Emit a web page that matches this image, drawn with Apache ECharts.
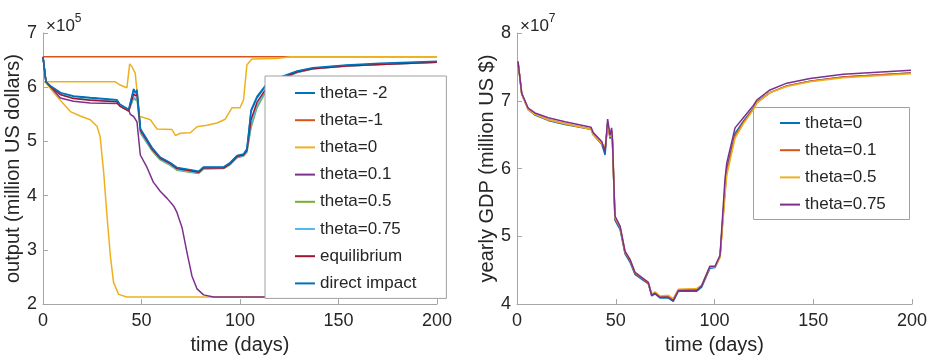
<!DOCTYPE html>
<html>
<head>
<meta charset="utf-8">
<script src="https://cdn.jsdelivr.net/npm/echarts@6/dist/echarts.min.js"></script>
<style>
  html, body { margin: 0; padding: 0; background: #fff; }
  #chart { width: 934px; height: 360px; }
</style>
</head>
<body>
<div id="chart"></div>
<script>
// ── left panel: output (×10^5 million US dollars) ──────────────────────
const clusterDays = [0, 1.5, 4, 9, 15.5, 24, 37.5, 39, 43.5, 46, 47, 47.7, 49.5, 52.8, 55.3, 59.5, 64.6, 68, 74.8, 79, 81.5, 91.7, 95, 98.5, 101.8, 103.5, 105.6, 108.6, 112.8, 122, 129, 137, 154, 171, 200]
const thetaM2      = [6.56, 6.10, 6.01, 5.89, 5.83, 5.80, 5.76, 5.68, 5.58, 5.95, 5.89, 5.94, 5.22, 5.03, 4.88, 4.70, 4.60, 4.51, 4.47, 4.44, 4.52, 4.52, 4.60, 4.73, 4.76, 4.85, 5.55, 5.80, 6.01, 6.20, 6.29, 6.35, 6.40, 6.43, 6.47]
const theta05      = [6.56, 6.10, 6.00, 5.87, 5.80, 5.77, 5.74, 5.66, 5.56, 5.80, 5.76, 5.80, 5.15, 4.97, 4.83, 4.66, 4.56, 4.47, 4.43, 4.41, 4.49, 4.50, 4.57, 4.70, 4.73, 4.80, 5.25, 5.62, 5.90, 6.16, 6.27, 6.34, 6.39, 6.42, 6.46]
const theta075     = [6.56, 6.10, 6.00, 5.87, 5.80, 5.77, 5.74, 5.66, 5.57, 5.82, 5.78, 5.82, 5.17, 4.98, 4.84, 4.67, 4.57, 4.48, 4.44, 4.42, 4.50, 4.51, 4.58, 4.71, 4.74, 4.81, 5.30, 5.66, 5.92, 6.17, 6.27, 6.34, 6.39, 6.42, 6.46]
const equilibrium  = [6.56, 6.10, 6.00, 5.86, 5.79, 5.76, 5.73, 5.65, 5.56, 5.88, 5.84, 5.88, 5.20, 5.01, 4.86, 4.69, 4.59, 4.50, 4.46, 4.43, 4.51, 4.51, 4.59, 4.72, 4.75, 4.83, 5.40, 5.72, 5.95, 6.18, 6.28, 6.34, 6.39, 6.42, 6.46]
const directImpact = [6.56, 6.10, 6.02, 5.90, 5.84, 5.81, 5.77, 5.69, 5.59, 5.97, 5.90, 5.95, 5.23, 5.04, 4.89, 4.71, 4.61, 4.52, 4.48, 4.45, 4.53, 4.53, 4.61, 4.74, 4.77, 4.86, 5.58, 5.83, 6.03, 6.21, 6.30, 6.36, 6.41, 6.44, 6.48]

const thetaM1Days = [0, 200]
const thetaM1     = [6.56, 6.56]

const theta0Days = [0, 36.7, 39.2, 42.6, 44, 45.1, 46.8, 49, 51, 54.5, 57.9, 65.5, 67.2, 69.7, 74.8, 78.2, 83.2, 88.3, 92.5, 95.9, 100, 101.8, 103.5, 106, 118.8, 125.5, 200]
const theta0     = [6.10, 6.10, 6.04, 5.99, 6.43, 6.38, 6.26, 5.46, 5.44, 5.40, 5.23, 5.22, 5.11, 5.15, 5.16, 5.27, 5.30, 5.34, 5.41, 5.62, 5.62, 5.77, 6.41, 6.52, 6.53, 6.56, 6.56]
const theta0DropDays = [1, 5, 9, 13.9, 18.9, 24, 27.4, 29, 30.8, 32.5, 34.2, 35.8, 38.4, 42.6, 200]
const theta0Drop     = [6.10, 5.92, 5.75, 5.55, 5.47, 5.40, 5.28, 5.09, 4.43, 3.62, 2.89, 2.40, 2.18, 2.13, 2.13]

const theta01Days = [0, 1.5, 4, 8.8, 15.5, 24, 37.6, 40, 43.5, 44.3, 46, 47.7, 49.4, 52.8, 56, 59.5, 63, 66.3, 68, 70.6, 73.1, 75.6, 78.2, 81.5, 86.6, 200]
const theta01     = [6.56, 6.10, 6.00, 5.80, 5.74, 5.71, 5.70, 5.63, 5.58, 5.50, 5.46, 5.36, 4.75, 4.52, 4.25, 4.08, 3.95, 3.81, 3.69, 3.41, 2.95, 2.52, 2.28, 2.17, 2.13, 2.13]

// ── right panel: yearly GDP (×10^7 million US $) ───────────────────────
const gdpDays  = [0.5, 2.4, 5.7, 9.1, 15.8, 24.3, 37.5, 38.6, 42.9, 44.6, 45.9, 47.1, 47.9, 48.3, 49.6, 52.2, 54.7, 57.2, 59.7, 66.5, 68.2, 69.9, 72.4, 76.6, 79.1, 81.7, 91, 93.5, 97.7, 100.3, 102.8, 105.3, 106.2, 110.4, 114.6, 119.7, 121.4, 128.1, 136.6, 148.4, 165.2, 199.5]
const gdp0     = [7.58, 7.10, 6.87, 6.79, 6.71, 6.65, 6.58, 6.50, 6.36, 6.20, 6.68, 6.44, 6.55, 6.42, 5.24, 5.10, 4.74, 4.62, 4.44, 4.30, 4.12, 4.15, 4.09, 4.09, 4.04, 4.19, 4.19, 4.25, 4.53, 4.54, 4.70, 5.70, 6.00, 6.52, 6.70, 6.89, 6.98, 7.12, 7.22, 7.29, 7.35, 7.41]
const gdp01    = [7.58, 7.10, 6.87, 6.80, 6.72, 6.66, 6.58, 6.51, 6.38, 6.28, 6.66, 6.46, 6.56, 6.43, 5.27, 5.13, 4.76, 4.65, 4.46, 4.31, 4.14, 4.17, 4.11, 4.12, 4.07, 4.21, 4.22, 4.27, 4.55, 4.55, 4.70, 5.65, 5.95, 6.48, 6.68, 6.88, 6.97, 7.12, 7.22, 7.29, 7.35, 7.41]
const gdp05    = [7.58, 7.10, 6.87, 6.80, 6.72, 6.66, 6.58, 6.50, 6.37, 6.30, 6.64, 6.47, 6.55, 6.43, 5.28, 5.14, 4.77, 4.66, 4.47, 4.32, 4.15, 4.18, 4.12, 4.13, 4.08, 4.22, 4.23, 4.28, 4.55, 4.55, 4.69, 5.60, 5.90, 6.45, 6.66, 6.87, 6.97, 7.12, 7.21, 7.28, 7.34, 7.40]
const gdp075   = [7.58, 7.11, 6.89, 6.82, 6.75, 6.69, 6.61, 6.53, 6.40, 6.25, 6.73, 6.49, 6.60, 6.45, 5.30, 5.15, 4.78, 4.66, 4.47, 4.32, 4.13, 4.16, 4.10, 4.10, 4.05, 4.20, 4.20, 4.27, 4.56, 4.56, 4.72, 5.84, 6.08, 6.60, 6.75, 6.93, 7.01, 7.16, 7.26, 7.33, 7.39, 7.45]

const leftLegend  = ['theta= -2', 'theta=-1', 'theta=0', 'theta=0.1', 'theta=0.5', 'theta=0.75', 'equilibrium', 'direct impact']
const rightLegend = ['theta=0', 'theta=0.1', 'theta=0.5', 'theta=0.75']

const BLUE = '#0072BD', ORANGE = '#D95319', YELLOW = '#EDB120', PURPLE = '#7E2F8E'
const GREEN = '#77AC30', CYAN = '#4DBEEE', RED = '#A2142F'
const FONT = 'Liberation Sans, Arial, Helvetica, sans-serif'
const AXIS_GRAY = '#a6a6a6'
const BOX_GRAY = '#a0a0a0'
const TEXT = '#262626'

// series names are prefixed per panel so the two legends don't share entries
const L = 'L|', R = 'R|'
const pairs = (xs, ys) => xs.map((x, i) => [x, ys[i]])

function line(name, color, data, xi) {
  return {
    name, type: 'line', xAxisIndex: xi, yAxisIndex: xi, data,
    symbol: 'none', color,
    lineStyle: { color, width: 1.5 },
    animation: false,
  }
}

function xAxis(gridIndex) {
  return {
    type: 'value', gridIndex, min: 0, max: 200, interval: 50,
    name: 'time (days)', nameLocation: 'middle', nameGap: 30,
    nameTextStyle: { fontSize: 20, color: TEXT, fontFamily: FONT },
    axisLine: { lineStyle: { color: AXIS_GRAY } },
    axisTick: { inside: true, length: 5, lineStyle: { color: AXIS_GRAY } },
    axisLabel: { fontSize: 18, color: TEXT, fontFamily: FONT, margin: 8 },
    splitLine: { show: false },
  }
}

function yAxis(gridIndex, name, min, max) {
  return {
    type: 'value', gridIndex, min, max, interval: 1,
    name, nameLocation: 'middle', nameGap: 16,
    nameTextStyle: { fontSize: 20, color: TEXT, fontFamily: FONT },
    axisLine: { show: true, lineStyle: { color: AXIS_GRAY } },
    axisTick: { show: true, inside: true, length: 5, lineStyle: { color: AXIS_GRAY } },
    axisLabel: { fontSize: 18, color: TEXT, fontFamily: FONT, margin: 6 },
    splitLine: { show: false },
  }
}

function legend(prefix, names, left, top, padding, framed) {
  return {
    data: names.map(n => prefix + n), orient: 'vertical', left, top, padding,
    formatter: n => n.slice(prefix.length),
    icon: 'rect', itemWidth: 20, itemHeight: 2, itemGap: 7.2,
    backgroundColor: framed ? '#fff' : 'transparent',
    borderColor: BOX_GRAY, borderWidth: framed ? 1 : 0,
    textStyle: { fontSize: 17, color: TEXT, fontFamily: FONT, lineHeight: 20 },
    selectedMode: false,
  }
}

function exponent(left, exp) {
  return {
    text: '{a|×10}{b|' + exp + '}', left, top: 8,
    textStyle: {
      fontWeight: 'normal',
      rich: {
        a: { fontSize: 17, fontWeight: 'normal', color: TEXT, fontFamily: FONT, lineHeight: 22, verticalAlign: 'bottom' },
        b: { fontSize: 12, fontWeight: 'normal', color: TEXT, fontFamily: FONT, lineHeight: 22, verticalAlign: 'top' },
      },
    },
  }
}

const chart = echarts.init(document.getElementById('chart'))
chart.setOption({
  animation: false,
  backgroundColor: '#fff',
  textStyle: { fontFamily: FONT },
  title: [exponent(41, 5), exponent(515, 7)],
  grid: [
    { left: 43, top: 33, width: 394, height: 272 },
    { left: 517, top: 33, width: 395, height: 272 },
  ],
  xAxis: [xAxis(0), xAxis(1)],
  yAxis: [
    yAxis(0, 'output (million US dollars)', 2, 7),
    yAxis(1, 'yearly GDP (million US $)', 4, 8),
  ],
  legend: [
    legend(L, leftLegend, 265, 76, [7, 30, 5, 30], true),
    legend(R, rightLegend, 753, 107, [6, 18, 4, 27], false),
  ],
  // frame for the right-hand legend (its own border does not render)
  graphic: [{
    type: 'rect', z: 3, silent: true,
    shape: { x: 753.5, y: 107.5, width: 156, height: 112 },
    style: { fill: '#fff', stroke: BOX_GRAY, lineWidth: 1 },
  }],
  series: [
    line(L + 'theta= -2', BLUE, pairs(clusterDays, thetaM2), 0),
    line(L + 'theta=-1', ORANGE, pairs(thetaM1Days, thetaM1), 0),
    line(L + 'theta=0', YELLOW, pairs(theta0Days, theta0), 0),
    line(L + 'theta=0', YELLOW, pairs(theta0DropDays, theta0Drop), 0),
    line(L + 'theta=0.1', PURPLE, pairs(theta01Days, theta01), 0),
    line(L + 'theta=0.5', GREEN, pairs(clusterDays, theta05), 0),
    line(L + 'theta=0.75', CYAN, pairs(clusterDays, theta075), 0),
    line(L + 'equilibrium', RED, pairs(clusterDays, equilibrium), 0),
    line(L + 'direct impact', BLUE, pairs(clusterDays, directImpact), 0),

    line(R + 'theta=0', BLUE, pairs(gdpDays, gdp0), 1),
    line(R + 'theta=0.1', ORANGE, pairs(gdpDays, gdp01), 1),
    line(R + 'theta=0.5', YELLOW, pairs(gdpDays, gdp05), 1),
    line(R + 'theta=0.75', PURPLE, pairs(gdpDays, gdp075), 1),
  ],
})
</script>
</body>
</html>
